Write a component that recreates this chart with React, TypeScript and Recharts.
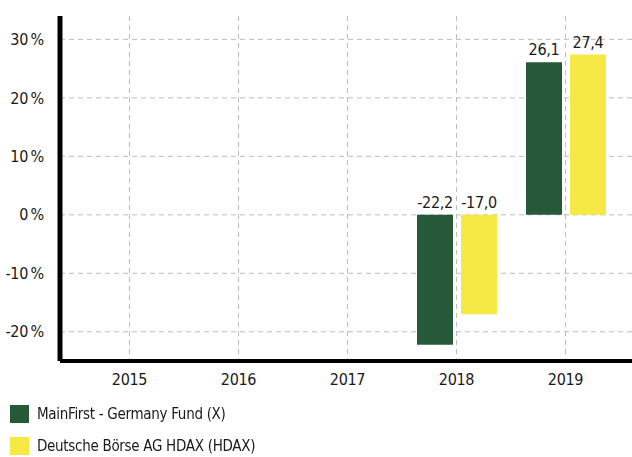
import { BarChart, Bar, XAxis, YAxis, CartesianGrid, LabelList } from 'recharts'

// Values
const years = ['2015', '2016', '2017', '2018', '2019']
const fundValues: (number | null)[] = [null, null, null, -22.2, 26.1]
const indexValues: (number | null)[] = [null, null, null, -17.0, 27.4]
const yTicks = [-20, -10, 0, 10, 20, 30]

const SERIES = [
  { key: 'fund', name: 'MainFirst - Germany Fund (X)', color: '#265938' },
  { key: 'index', name: 'Deutsche Börse AG HDAX (HDAX)', color: '#f6e945' },
]

const FONT = '"Liberation Sans Narrow", "DejaVu Sans Condensed", Roboto, sans-serif'

const data = years.map((year, i) => ({
  year,
  fund: fundValues[i],
  index: indexValues[i],
}))

const formatValue = (v: number) => v.toFixed(1).replace('.', ',')

// label always sits above the top edge of the bar (zero line for negatives)
function ValueLabel(props: any) {
  const { x, y, width, height, value } = props
  if (value == null) return null
  const top = Math.min(y, y + height)
  return (
    <text
      x={x + width / 2}
      y={top - 7}
      textAnchor="middle"
      fontFamily={FONT}
      fontSize={16}
      letterSpacing={-0.3}
      fill="#1a1a1a"
    >
      {formatValue(value)}
    </text>
  )
}

export default function App() {
  return (
    <div style={{ position: 'fixed', left: 0, top: 0, width: 632, height: 457, background: '#fff' }}>
      <BarChart
        width={632}
        height={400}
        data={data}
        margin={{ top: 16, right: 0, bottom: 9, left: 0 }}
        barSize={36}
        barGap={8}
      >
        <CartesianGrid
          stroke="#bdbdbd"
          strokeDasharray="5 4"
          horizontalValues={yTicks}
          verticalValues={years}
        />
        <XAxis
          dataKey="year"
          height={30}
          padding={{ left: 15, right: 12 }}
          axisLine={{ stroke: '#000', strokeWidth: 4 }}
          tickLine={false}
          tickSize={6}
          tickMargin={7}
          tick={{ fontFamily: FONT, fontSize: 16, fill: '#1a1a1a', letterSpacing: -0.3 }}
        />
        <YAxis
          width={60}
          domain={[-25, 34]}
          ticks={yTicks}
          allowDataOverflow
          axisLine={{ stroke: '#000', strokeWidth: 5 }}
          tickLine={false}
          tickSize={6}
          tickMargin={10}
          tickFormatter={(v: number) => `${v}\u2009%`}
          tick={{ fontFamily: FONT, fontSize: 16, fill: '#1a1a1a', letterSpacing: -0.3 }}
        />
        {SERIES.map((s) => (
          <Bar key={s.key} dataKey={s.key} name={s.name} fill={s.color} isAnimationActive={false}>
            <LabelList dataKey={s.key} content={ValueLabel} />
          </Bar>
        ))}
      </BarChart>
      <div
        style={{
          position: 'absolute',
          left: 10,
          top: 405,
          fontFamily: FONT,
          fontSize: 15,
          letterSpacing: -0.3,
          color: '#1a1a1a',
        }}
      >
        {SERIES.map((s) => (
          <div key={s.key} style={{ display: 'flex', alignItems: 'center', height: 18, marginBottom: 14 }}>
            <span style={{ width: 19, height: 18, background: s.color, display: 'inline-block', marginRight: 8 }} />
            <span>{s.name}</span>
          </div>
        ))}
      </div>
    </div>
  )
}
